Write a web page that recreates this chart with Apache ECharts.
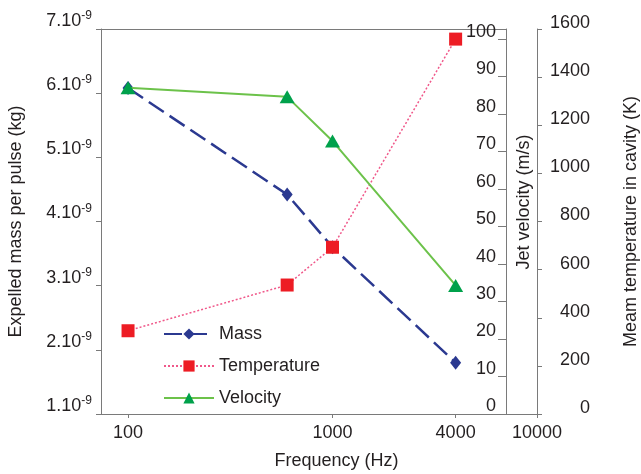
<!DOCTYPE html>
<html>
<head>
<meta charset="utf-8">
<script src="https://cdn.jsdelivr.net/npm/echarts@6/dist/echarts.min.js"></script>
<style>html,body{margin:0;padding:0;background:#fff}#c{width:641px;height:474px}</style>
</head>
<body>
<div id="c"></div>
<script>
// Frequency (Hz)
const frequencies = [100, 600, 1000, 4000];
// Expelled mass per pulse, in units of 1e-9 kg
const massValues = [6.08, 4.42, 3.60, 1.80];
// Mean temperature in cavity (K)
const temperatureValues = [346, 536, 693, 1558];
// Jet velocity (m/s)
const velocityValues = [87.0, 84.6, 72.8, 34.3];

const xTicks = [100, 1000, 4000, 10000];
const massTicks = [1, 2, 3, 4, 5, 6, 7];
const velocityTicks = [0, 10, 20, 30, 40, 50, 60, 70, 80, 90, 100];
const temperatureTicks = [0, 200, 400, 600, 800, 1000, 1200, 1400, 1600];

const FONT = 'Liberation Sans';
const TXT = '#231f20';
const AX = '#7a7a7a';

function pairs(xs, ys) { return xs.map((x, i) => [x, ys[i]]); }

const chart = echarts.init(document.getElementById('c'), null, {renderer: 'canvas'});
chart.setOption({
  animation: false,
  backgroundColor: '#fff',
  textStyle: {fontFamily: FONT, color: TXT},
  grid: [
    {left: 101, right: 104, top: 29, bottom: 60, containLabel: false, outerBoundsMode: 'none'},
    {left: 101, right: 135, top: 29, bottom: 60, containLabel: false, outerBoundsMode: 'none'}
  ],
  legend: {
    orient: 'vertical', left: 158, top: 320, itemWidth: 50, itemHeight: 14, itemGap: 14,
    textStyle: {fontFamily: FONT, fontSize: 18, color: TXT},
    data: ['Mass', 'Temperature', 'Velocity']
  },
  xAxis: [{
    type: 'log', gridIndex: 0, min: 73.75, max: 10000, logBase: 10,
    name: 'Frequency (Hz)', nameLocation: 'middle', nameGap: 38,
    nameTextStyle: {fontFamily: FONT, fontSize: 18, color: TXT, padding: [0, 0, 0, 35]},
    axisLine: {lineStyle: {color: AX, width: 1}},
    axisTick: {show: true, length: 4, lineStyle: {color: AX}, customValues: xTicks},
    axisLabel: {fontFamily: FONT, fontSize: 18, color: TXT, margin: 10, customValues: xTicks, formatter: v => String(v)},
    splitLine: {show: false}, minorTick: {show: false}
  }, {
    type: 'value', gridIndex: 1, position: 'top', min: 0, max: 1,
    axisLine: {show: true, onZero: false, lineStyle: {color: AX, width: 1}},
    axisTick: {show: false}, axisLabel: {show: false}, splitLine: {show: false}
  }],
  yAxis: [{
    type: 'value', gridIndex: 0, position: 'left', min: 1, max: 7,
    name: 'Expelled mass per pulse (kg)', nameLocation: 'middle', nameGap: 76,
    nameTextStyle: {fontFamily: FONT, fontSize: 18, color: TXT},
    axisLine: {show: true, lineStyle: {color: AX}},
    axisTick: {show: true, length: 5, lineStyle: {color: AX}, customValues: massTicks},
    axisLabel: {
      margin: 9, customValues: massTicks, verticalAlign: 'middle',
      formatter: v => '{b|' + v + '.10}{s|-9}',
      rich: {
        b: {fontFamily: FONT, fontSize: 18, color: TXT, padding: [0, 0, 16, 0]},
        s: {fontFamily: FONT, fontSize: 12, color: TXT, padding: [0, 0, 26, 0]}
      }
    },
    splitLine: {show: false}
  }, {
    type: 'value', gridIndex: 0, position: 'right', offset: -31, min: 0, max: 102.7,
    name: 'Jet velocity (m/s)', nameLocation: 'middle', nameGap: 8,
    nameTextStyle: {fontFamily: FONT, fontSize: 18, color: TXT, padding: [0, 0, 0, 39]},
    axisLine: {show: true, lineStyle: {color: AX}},
    axisTick: {show: true, inside: true, length: 8, lineStyle: {color: AX}, customValues: velocityTicks},
    axisLabel: {inside: true, margin: 10, customValues: velocityTicks, verticalAlign: 'middle',
      formatter: v => '{a|' + v + '}',
      rich: {a: {fontFamily: FONT, fontSize: 18, color: TXT, padding: [0, 0, 15, 0]}}},
    splitLine: {show: false}
  }, {
    type: 'value', gridIndex: 0, position: 'right', offset: 0, min: 0, max: 1600,
    name: 'Meam temperature in cavity (K)', nameLocation: 'middle', nameGap: 85,
    nameTextStyle: {fontFamily: FONT, fontSize: 18, color: TXT},
    axisLine: {show: true, lineStyle: {color: AX}},
    axisTick: {show: true, length: 5, lineStyle: {color: AX}, customValues: temperatureTicks},
    axisLabel: {margin: 53, align: 'right', customValues: temperatureTicks, verticalAlign: 'middle',
      formatter: v => '{a|' + v + '}',
      rich: {a: {fontFamily: FONT, fontSize: 18, color: TXT, padding: [0, 0, 12, 0]}}},
    splitLine: {show: false}
  }, {
    type: 'value', gridIndex: 1, show: false, min: 0, max: 1
  }],
  series: [{
    name: 'Mass', type: 'line', xAxisIndex: 0, yAxisIndex: 0,
    data: pairs(frequencies, massValues),
    symbol: 'diamond', symbolSize: [11, 14],
    itemStyle: {color: '#2b3990'},
    lineStyle: {color: '#2b3990', width: 2.5, type: [18, 7]},
    z: 2
  }, {
    name: 'Temperature', type: 'line', xAxisIndex: 0, yAxisIndex: 2,
    data: pairs(frequencies, temperatureValues),
    symbol: 'rect', symbolSize: 13,
    itemStyle: {color: '#ed1c24'},
    lineStyle: {color: '#f0588a', width: 1.5, type: [2, 2]},
    z: 3
  }, {
    name: 'Velocity', type: 'line', xAxisIndex: 0, yAxisIndex: 1,
    data: pairs(frequencies, velocityValues),
    symbol: 'triangle', symbolSize: [15, 13],
    itemStyle: {color: '#00a14b'},
    lineStyle: {color: '#6cc24a', width: 2},
    z: 4
  }]
});
</script>
</body>
</html>
